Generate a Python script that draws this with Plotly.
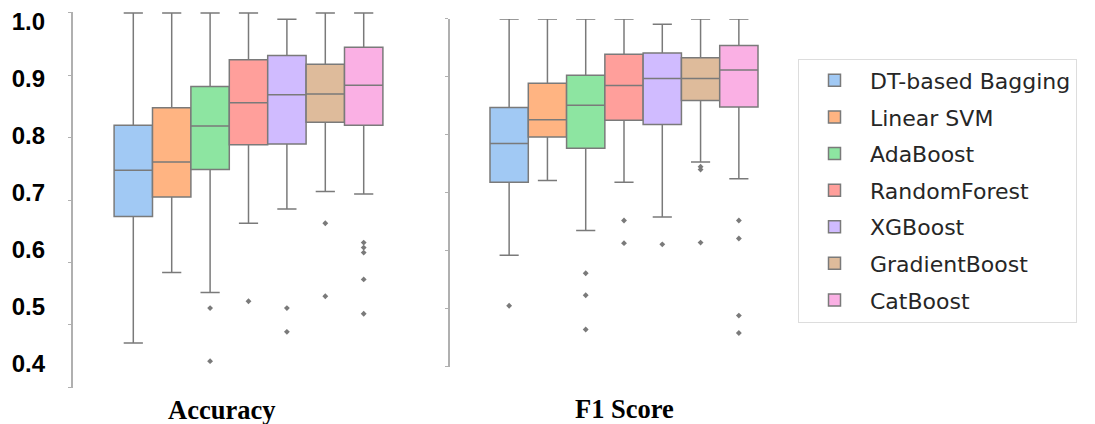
import plotly.graph_objects as go

models = ["DT-based Bagging", "Linear SVM", "AdaBoost", "RandomForest",
          "XGBoost", "GradientBoost", "CatBoost"]
colors = ["#a1c9f4", "#ffb482", "#8de5a1", "#ff9f9b", "#d0bbff", "#debb9b", "#fab0e4"]

# Accuracy statistics
acc_lower = [0.471, 0.584, 0.552, 0.663, 0.686, 0.714, 0.710]
acc_q1 = [0.674, 0.705, 0.749, 0.789, 0.790, 0.825, 0.820]
acc_median = [0.748, 0.761, 0.819, 0.856, 0.869, 0.870, 0.884]
acc_q3 = [0.820, 0.848, 0.882, 0.925, 0.932, 0.918, 0.945]
acc_upper = [1.000, 1.000, 1.000, 1.000, 0.990, 1.000, 1.000]
acc_outliers = [[], [], [0.527, 0.442], [0.538], [0.527, 0.489],
                [0.663, 0.546], [0.632, 0.624, 0.616, 0.573, 0.518]]

# F1 statistics
f1_lower = [0.592, 0.721, 0.635, 0.718, 0.658, 0.753, 0.724]
f1_q1 = [0.718, 0.796, 0.777, 0.825, 0.818, 0.859, 0.848]
f1_median = [0.785, 0.826, 0.851, 0.885, 0.897, 0.897, 0.912]
f1_q3 = [0.847, 0.889, 0.903, 0.939, 0.941, 0.933, 0.954]
f1_upper = [1.000, 1.000, 1.000, 1.000, 0.991, 1.000, 1.000]
f1_outliers = [[0.505], [], [0.561, 0.523, 0.464], [0.652, 0.613], [0.611],
               [0.745, 0.740, 0.614], [0.652, 0.621, 0.488, 0.458]]

tick_vals = [0.4, 0.5, 0.6, 0.7, 0.8, 0.9, 1.0]
tick_text = ["0.4", "0.5", "0.6", "0.7", "0.8", "0.9", "1.0"]

# page body has an 8px margin; figure is sized to fit the window
OFF = 8
W, H = 1095 - OFF, 424 - OFF
LINE = "#7a7a7a"


def px(x):
    return (x - OFF) / W


def py(y):
    return min(1.0, max(0.0, 1 - (y - OFF) / H))


fig = go.Figure()


def add_box(name, color, cat, lo, q1, med, q3, up, outs, xa, ya, show):
    kw = {}
    if outs:
        kw["y"] = [outs]
        kw["boxpoints"] = "outliers"
    else:
        kw["boxpoints"] = False
    fig.add_trace(go.Box(
        name=name, x=[cat], q1=[q1], median=[med], q3=[q3],
        lowerfence=[lo], upperfence=[up],
        fillcolor=color, line=dict(color=LINE, width=1.5),
        whiskerwidth=0.5, pointpos=0, jitter=0,
        marker=dict(symbol="diamond", size=4.5, color=LINE, line=dict(width=0)),
        xaxis=xa, yaxis=ya, legendgroup=name, offsetgroup=name, showlegend=show,
        hoverinfo="skip", **kw))


for i, m in enumerate(models):
    add_box(m, colors[i], "Accuracy", acc_lower[i], acc_q1[i], acc_median[i],
            acc_q3[i], acc_upper[i], acc_outliers[i], "x", "y", True)
for i, m in enumerate(models):
    add_box(m, colors[i], "F1 Score", f1_lower[i], f1_q1[i], f1_median[i],
            f1_q3[i], f1_upper[i], f1_outliers[i], "x2", "y2", False)

# empty trace so the label axis is drawn
fig.add_trace(go.Scatter(x=[], y=[], xaxis="x", yaxis="y3", showlegend=False,
                         hoverinfo="skip"))

axis_line = dict(showline=True, linecolor="#b0b0b0", linewidth=1.5,
                 ticks="outside", ticklen=3, tickcolor="#b0b0b0", tickwidth=1,
                 tickvals=tick_vals, showticklabels=False,
                 showgrid=False, zeroline=False)

# left panel: 1.0 at y=9, 0.4 at y=387 (63 px per 0.1); axis from y=8 to 388
# label axis: 1.0 at y=17.5, 0.4 at y=363 (57.6 px per 0.1)
lab_ppu = (363 - 17.5) / 0.6
fig.update_layout(
    width=W, height=H,
    margin=dict(l=0, r=0, t=0, b=0),
    paper_bgcolor="white", plot_bgcolor="white",
    boxmode="group", boxgap=0.2, boxgroupgap=0,
    xaxis=dict(domain=[px(73), px(416.5)], range=[-0.5 - 7.5 / 336, 0.5],
               visible=False, type="category"),
    xaxis2=dict(domain=[px(450), px(791.5)], range=[-0.5 - 6.5 / 335, 0.5],
                visible=False, type="category"),
    yaxis=dict(domain=[py(388), py(8)], range=[0.4 - 1 / 630, 1.0 + 1 / 630],
               anchor="x", **axis_line),
    yaxis2=dict(domain=[py(366), py(15)], range=[0.4, 1.0],
                anchor="x2", **axis_line),
    yaxis3=dict(overlaying="y", anchor="x", side="left",
                range=[0.4 - (388 - 363) / lab_ppu, 1.0 + (17.5 - 8) / lab_ppu],
                tickvals=tick_vals, ticktext=["<b>%s</b>" % t for t in tick_text],
                tickfont=dict(family="Liberation Sans, Arial", size=24, color="black"),
                showline=False, ticks="", showgrid=False, zeroline=False,
                ticklabelstandoff=27, ticklabeloverflow="allow"),
    legend=dict(x=px(798), y=py(55), xanchor="left", yanchor="top",
                bordercolor="#dddddd", borderwidth=1, bgcolor="white",
                font=dict(family="DejaVu Sans", size=22, color="#262626"),
                itemwidth=61, tracegroupgap=5, traceorder="grouped"),
    showlegend=True,
)

fig.add_annotation(text="<b>Accuracy</b>", x=px(221.5), y=py(410),
                   xref="paper", yref="paper", showarrow=False,
                   xanchor="center", yanchor="middle",
                   font=dict(family="Liberation Serif, Times New Roman", size=26.5, color="black"))
fig.add_annotation(text="<b>F1 Score</b>", x=px(624), y=py(409),
                   xref="paper", yref="paper", showarrow=False,
                   xanchor="center", yanchor="middle",
                   font=dict(family="Liberation Serif, Times New Roman", size=26.5, color="black"))

fig.write_html("out.html")
